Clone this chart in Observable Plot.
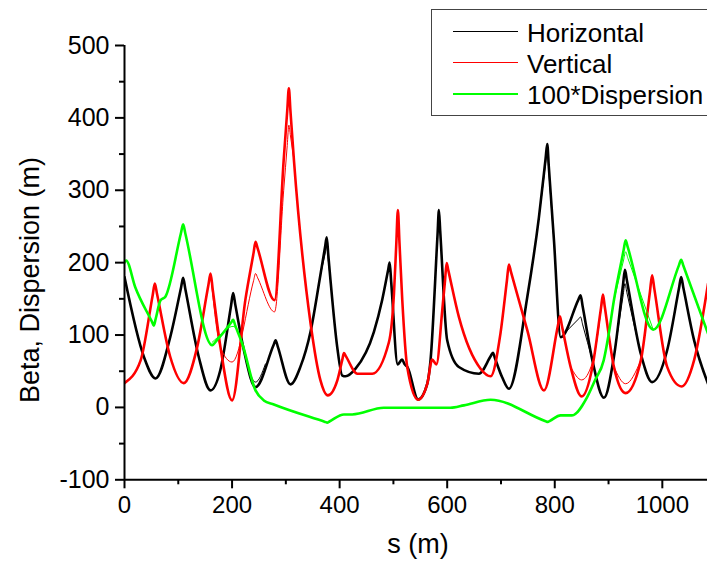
<!DOCTYPE html>
<html><head><meta charset="utf-8">
<script src="https://cdn.jsdelivr.net/npm/d3@7"></script>
<script src="https://cdn.jsdelivr.net/npm/@observablehq/plot@0.6"></script>
<style>
body{margin:0;background:#fff;overflow:hidden;font-family:"Liberation Sans",Arial,sans-serif;}
#wrap{position:relative;width:707px;height:563px;overflow:hidden;background:#fff;}
.lbl{position:absolute;white-space:nowrap;line-height:1;color:#000;}
</style></head><body><div id="wrap"></div>
<script>
// Horizontal beta (thick)
const hS = [0,36,57.7,85,105,109,113,138,160,178,198,202,206,222,243.6,277,281,285,308.7,327,346,364,373,376,379,383,395.6,405,411,429.6,463.6,479,490,493,496,508,516,521,526,546,563,569,582,584.6,587,600,621.7,659,681,685,689,702,714.7,749,770.6,783,786,789,798.5,811,844,848,852,870,891.5,910,927,930.5,934,960,981,1009,1031,1035,1039,1059,1085];
const hB = [180,70,40,97,165,179,164,70,23.5,51,140,158,142,79,28,85.8,92.7,84,31.8,56,105,182,222,235,210,176,83,44,43,53.5,104,148,189,200,172,59.5,66,59.5,55.8,11,33,65,238,272.5,244,92.7,55.8,46.6,71,75.6,67.6,42,25.8,153,263,344,364,332,231,97,149,155,139,65,13.4,70,170,190,176,74,35,79,164.5,180,165.6,93,32.7];
// Horizontal beta (thin, only where it departs from the thick one)
const hThinS = [222,243.6,262,null,364,373,376,379,383,null,770.6,783,786,789,798.5,null,811,844,848,852,870,null,910,927,930.5,934,960];
const hThinB = [79,35,60,null,182,212,222,202,176,null,263,338,357,325,231,null,97,122,125,114,65,null,70,154,171,159,74];
// Vertical beta (thick)
const vS = [0,30,52.4,56.4,60.4,85,110,135,156,160,164,178.5,200,225,240,243.6,247.6,279,296,302.6,305.6,308.6,315,346,364.5,378,395.6,405,408,411,433,460.7,491.6,501,505.3,508.3,511.3,516.5,525.7,546,563,572,580,590.8,596,599,602,621.7,662,680.7,699,711,714.7,718.7,749,780,806,809.6,813,829.5,850,870,886,889.6,893,910,931.7,960,977,981,985,1009,1036,1059,1085];
const vB = [33.6,65,155,171,157,70,33.6,83,169,185,163,83,9.7,150,213.5,228.7,219.6,148,342,410,441,409,342,116,37,16.6,37,66,75,71.6,46.6,46.6,90,157,225,272.5,227,148,55.8,10.6,32.7,66,59.5,134,175.6,199.6,189.7,125,53.5,43,102,175,197.4,186.8,106.5,23.5,113.5,126,114,56,15.2,56,137.5,155.8,139,56,19.8,65,160,182.6,164.5,56,29,65,171];
// Vertical beta (thin)
const vThinS = [160,178.5,200,240,243.6,247.6,279,296,302.6,305.6,308.6,315,null,829.5,850,870,889.6,null,910,931.7,960];
const vThinB = [185,83,62.7,175,185,179,132,300,362,390,375,342,null,56,38,62,155.8,null,56,32.7,65];
// 100*Dispersion (thick)
const gS = [0,3,20,51,54.6,58,67,76,105,109,113,163,172,198,202,206,219,243.6,259,277.7,373,377,381,408,423.5,482,606,631,680.7,783,787,791,811,832,860,875,891,900,910,928,931.7,936,983,1031,1035,1039,1085];
const gD = [200,203,166,118.5,113,122.5,148,153,241,253,240.6,86,93,117,121,113,88,23.5,9.7,4,-20,-21,-19.5,-9.7,-9.7,-0.5,-0.5,2.8,10.6,-19,-20,-18.5,-11,-11,14,38,65,100,148,217,231,220.6,107.5,196.6,204,196,102];
// 100*Dispersion (thin)
const gThinS = [163,172,202,219,null,910,928,931.7,936,983];
const gThinD = [90,96,112,88,null,148,203.6,215,206,107.5];

const xMajor = [0,200,400,600,800,1000];
const xMinor = [100,300,500,700,900];
const yMajor = [-100,0,100,200,300,400,500];
const yMinor = [-50,50,150,250,350,450];

const legendNames = ["Horizontal","Vertical","100*Dispersion"];
const legendColors = ["#000000","#ff0000","#00ff00"];
const xTitle = "s (m)";
const yTitle = "Beta, Dispersion (m)";

const rows = (s, v) => s.map((x, i) => ({s: x, v: v[i]}));
const FONT = '"Liberation Sans", Arial, sans-serif';
const C = "monotone-x";

const chart = Plot.plot({
  width: 707, height: 563,
  marginLeft: 124, marginRight: 0, marginTop: 45, marginBottom: 83.7,
  style: {fontFamily: FONT, color: "#000", background: "#fff", overflow: "visible"},
  x: {domain: [0, 1084]},
  y: {domain: [-100, 500]},
  marks: [
    Plot.axisX(xMajor, {tickSize: 9, tickPadding: 7, strokeWidth: 2, fontSize: 24, label: null, tickFormat: d => String(d)}),
    Plot.axisX(xMinor, {tickSize: 5, strokeWidth: 2, label: null, tickFormat: () => ""}),
    Plot.axisY(yMajor, {tickSize: 9, tickPadding: 6, strokeWidth: 2, fontSize: 25, label: null, tickFormat: d => String(d)}),
    Plot.axisY(yMinor, {tickSize: 5, strokeWidth: 2, label: null, tickFormat: () => ""}),
    Plot.line(rows(hS, hB), {x: "s", y: "v", stroke: legendColors[0], strokeWidth: 2.6, curve: C, clip: true}),
    Plot.line(rows(hThinS, hThinB), {x: "s", y: "v", stroke: legendColors[0], strokeWidth: 1, curve: C, clip: true}),
    Plot.line(rows(vS, vB), {x: "s", y: "v", stroke: legendColors[1], strokeWidth: 2.6, curve: C, clip: true}),
    Plot.line(rows(vThinS, vThinB), {x: "s", y: "v", stroke: legendColors[1], strokeWidth: 1, curve: C, clip: true}),
    Plot.line(rows(gS, gD), {x: "s", y: "v", stroke: legendColors[2], strokeWidth: 2.6, curve: C, clip: true}),
    Plot.line(rows(gThinS, gThinD), {x: "s", y: "v", stroke: legendColors[2], strokeWidth: 1, curve: C, clip: true}),
    Plot.ruleX([0], {stroke: "#000", strokeWidth: 2}),
    Plot.ruleY([-100], {stroke: "#000", strokeWidth: 2})
  ]
});

const wrap = document.getElementById("wrap");
chart.style.position = "absolute";
chart.style.left = "0px";
chart.style.top = "0px";
wrap.appendChild(chart);

// axis titles
const yl = document.createElement("div");
yl.className = "lbl";
yl.textContent = yTitle;
yl.style.cssText += "left:30px;top:280px;font-size:27px;transform:translate(-50%,-50%) rotate(-90deg);";
wrap.appendChild(yl);

const xl = document.createElement("div");
xl.className = "lbl";
xl.textContent = xTitle;
xl.style.cssText += "left:418px;top:531px;font-size:27px;transform:translateX(-50%);";
wrap.appendChild(xl);

// legend
const lg = document.createElement("div");
lg.style.cssText = "position:absolute;left:431px;top:9px;width:320px;height:107px;border:1.5px solid #444;box-sizing:border-box;background:#fff;";
wrap.appendChild(lg);
legendNames.forEach((name, i) => {
  const y = 32 + i * 31;
  const ln = document.createElement("div");
  ln.style.cssText = `position:absolute;left:453px;top:${y - 1}px;width:65px;height:${i === 2 ? 2 : 1}px;background:${legendColors[i]};`;
  wrap.appendChild(ln);
  const t = document.createElement("div");
  t.className = "lbl";
  t.textContent = name;
  t.style.cssText += `left:527px;top:${y + 9.7 - 22}px;font-size:26px;`;
  wrap.appendChild(t);
});
</script></body></html>
